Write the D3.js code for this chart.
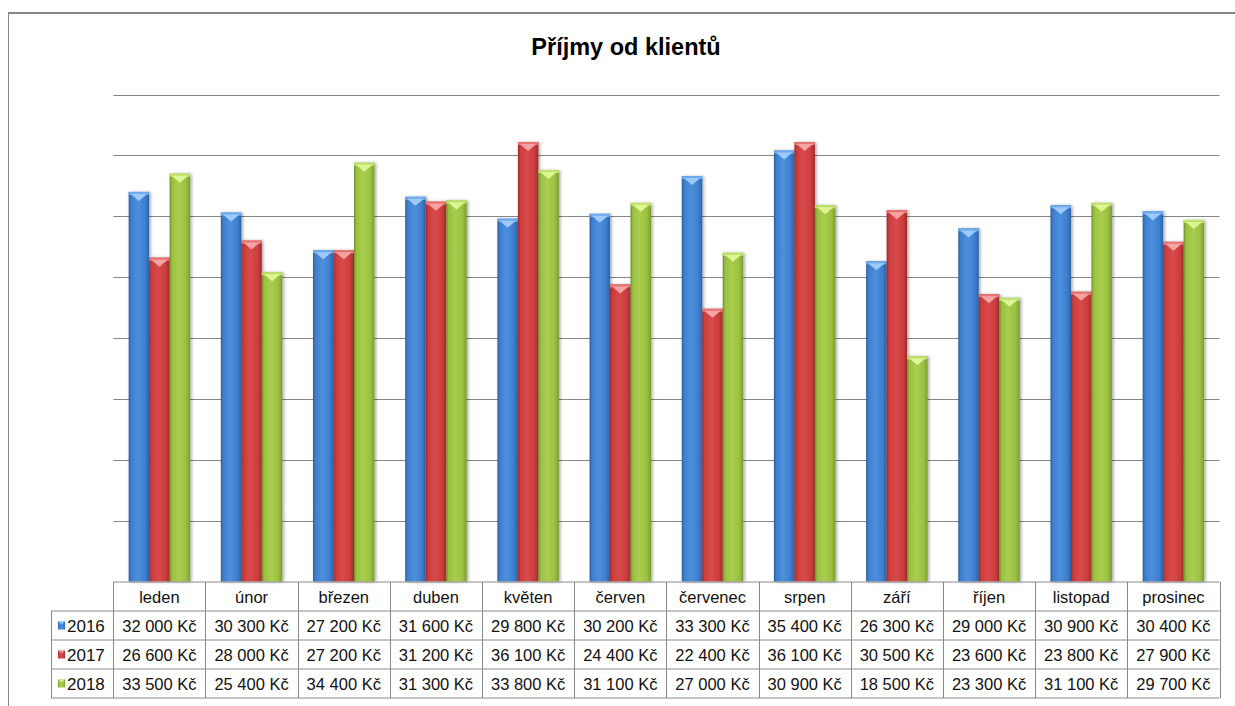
<!DOCTYPE html>
<html>
<head>
<meta charset="utf-8">
<script src="https://cdn.jsdelivr.net/npm/d3@7"></script>
<style>
  body { margin: 0; background: #fff; }
  svg { display: block; font-family: "Liberation Sans", Arial, sans-serif; }
</style>
</head>
<body>
<svg id="chart" width="1235" height="706"></svg>
<script>
// data
var months = ['leden', 'únor', 'březen', 'duben', 'květen', 'červen', 'červenec', 'srpen', 'září', 'říjen', 'listopad', 'prosinec'];
var years = ['2016', '2017', '2018'];
var values2016 = [32000, 30300, 27200, 31600, 29800, 30200, 33300, 35400, 26300, 29000, 30900, 30400];
var values2017 = [26600, 28000, 27200, 31200, 36100, 24400, 22400, 36100, 30500, 23600, 23800, 27900];
var values2018 = [33500, 25400, 34400, 31300, 33800, 31100, 27000, 30900, 18500, 23300, 31100, 29700];
var gridTicks = [5000, 10000, 15000, 20000, 25000, 30000, 35000, 40000];

var seriesValues = [values2016, values2017, values2018];

// colours per series: left dark, body, right dark, cap strip, cap triangle
var palette = [
    {dark: '#2a5c9c', body: '#3e7fcf', light: '#4d8fdd', right: '#2c63a8', strip: '#6ea8ee', cap: '#9ccaf9'},
    {dark: '#9a2828', body: '#cc3d3d', light: '#d84a4a', right: '#a12c2c', strip: '#e87373', cap: '#f6a3a3'},
    {dark: '#6d8c28', body: '#9cc142', light: '#a9cd4d', right: '#7c9c30', strip: '#bde06a', cap: '#def596'}
];

var W = 1235, H = 706;
var plot = {left: 113.3, right: 1219.5, top: 94.5, bottom: 581.5};
var rowH = 29;

var czech = d3.formatLocale({decimal: ',', thousands: '\u00a0', grouping: [3], currency: ['', '\u00a0Kč']});
var fmt = czech.format('$,');

var svg = d3.select('#chart');
var defs = svg.append('defs');

palette.forEach(function(c, i){
    var g = defs.append('linearGradient')
        .attr('id', 'bar' + i)
        .attr('x1', '0%').attr('x2', '100%').attr('y1', '0%').attr('y2', '0%');
    g.append('stop').attr('offset', '0%').attr('stop-color', c.dark);
    g.append('stop').attr('offset', '12%').attr('stop-color', c.body);
    g.append('stop').attr('offset', '45%').attr('stop-color', c.light);
    g.append('stop').attr('offset', '80%').attr('stop-color', c.body);
    g.append('stop').attr('offset', '100%').attr('stop-color', c.right);
});

var shadow = defs.append('filter').attr('id', 'shadow')
    .attr('x', '-30%').attr('y', '-5%').attr('width', '160%').attr('height', '110%');
shadow.append('feDropShadow')
    .attr('dx', 1.5).attr('dy', 0.5)
    .attr('stdDeviation', 1.4)
    .attr('flood-color', '#000')
    .attr('flood-opacity', 0.35);

// outer frame (top and left edges visible)
svg.append('line').attr('x1', 8).attr('x2', W).attr('y1', 13).attr('y2', 13)
    .attr('stroke', '#868686').attr('stroke-width', 2);
svg.append('line').attr('x1', 8.5).attr('x2', 8.5).attr('y1', 12).attr('y2', H)
    .attr('stroke', '#868686').attr('stroke-width', 1);

// title
svg.append('text')
    .attr('x', 626).attr('y', 55)
    .attr('text-anchor', 'middle')
    .attr('font-weight', 'bold')
    .attr('font-size', 23.5)
    .attr('fill', '#000')
    .text('Příjmy od klientů');

var x = d3.scaleBand().domain(months).range([plot.left, plot.right]).padding(0);
var bw = x.bandwidth();
var xs = d3.scaleBand().domain(years).range([bw / 6, bw * 5 / 6]).padding(0);
var y = d3.scaleLinear().domain([0, 40000]).range([plot.bottom, plot.top]);

// gridlines
svg.append('g').selectAll('line')
    .data(gridTicks)
    .join('line')
    .attr('x1', plot.left).attr('x2', plot.right)
    .attr('y1', d => Math.round(y(d)) + 0.5).attr('y2', d => Math.round(y(d)) + 0.5)
    .attr('stroke', '#868686').attr('stroke-width', 1);

// bars
var groups = svg.append('g').selectAll('g.month')
    .data(months)
    .join('g')
    .classed('month', true)
    .attr('transform', d => 'translate(' + x(d) + ',0)');

groups.each(function(m, mi){
    var g = d3.select(this);
    years.forEach(function(yr, si){
        var v = seriesValues[si][mi];
        var x0 = xs(yr), w = xs.bandwidth(), y0 = y(v), c = palette[si];
        var bar = g.append('g').attr('filter', 'url(#shadow)');
        bar.append('rect')
            .attr('x', x0).attr('y', y0)
            .attr('width', w).attr('height', y(0) - y0)
            .attr('fill', 'url(#bar' + si + ')');
        bar.append('rect')
            .attr('x', x0).attr('y', y0)
            .attr('width', w).attr('height', 3)
            .attr('fill', c.strip);
        bar.append('path')
            .attr('d', 'M' + (x0 + 2) + ',' + (y0 + 2) + 'L' + (x0 + w - 2) + ',' + (y0 + 2) +
                'L' + (x0 + w / 2) + ',' + (y0 + 9) + 'Z')
            .attr('fill', c.cap);
    });
});

// data table
var table = svg.append('g');
var tableTop = plot.bottom + 0.5;
var gray = '#8a8a8a';
var legendLeft = 51;

// horizontal lines
[0, 1, 2, 3, 4].forEach(function(r){
    table.append('line')
        .attr('x1', r === 0 ? plot.left : legendLeft).attr('x2', plot.right)
        .attr('y1', tableTop + r * rowH).attr('y2', tableTop + r * rowH)
        .attr('stroke', gray).attr('stroke-width', 1);
});
// vertical lines
var colEdges = months.map(m => x(m)).concat([plot.right]);
colEdges.forEach(function(cx){
    table.append('line')
        .attr('x1', Math.round(cx) + 0.5).attr('x2', Math.round(cx) + 0.5)
        .attr('y1', tableTop).attr('y2', tableTop + 4 * rowH)
        .attr('stroke', gray).attr('stroke-width', 1);
});
table.append('line')
    .attr('x1', legendLeft + 0.5).attr('x2', legendLeft + 0.5)
    .attr('y1', tableTop + rowH).attr('y2', tableTop + 4 * rowH)
    .attr('stroke', gray).attr('stroke-width', 1);

// header month names
table.selectAll('text.month')
    .data(months)
    .join('text')
    .classed('month', true)
    .attr('x', d => x(d) + bw / 2)
    .attr('y', tableTop + rowH / 2 + 6)
    .attr('text-anchor', 'middle')
    .attr('font-size', 16.5)
    .attr('fill', '#111')
    .text(d => d);

// value rows
years.forEach(function(yr, si){
    var rowY = tableTop + (si + 1) * rowH;
    var c = palette[si];
    table.append('rect')
        .attr('x', 58).attr('y', rowY + rowH / 2 - 4)
        .attr('width', 7).attr('height', 8)
        .attr('fill', 'url(#bar' + si + ')');
    table.append('rect')
        .attr('x', 59.5).attr('y', rowY + rowH / 2 - 4)
        .attr('width', 4).attr('height', 2)
        .attr('fill', c.cap);
    table.append('text')
        .attr('x', 67).attr('y', rowY + rowH / 2 + 6)
        .attr('font-size', 17)
        .attr('fill', '#111')
        .text(yr);
    table.selectAll('text.v' + si)
        .data(seriesValues[si])
        .join('text')
        .attr('class', 'v' + si)
        .attr('x', (d, i) => x(months[i]) + bw / 2)
        .attr('y', rowY + rowH / 2 + 6)
        .attr('text-anchor', 'middle')
        .attr('font-size', 16.5)
        .attr('fill', '#111')
        .text(d => fmt(d));
});
</script>
</body>
</html>
